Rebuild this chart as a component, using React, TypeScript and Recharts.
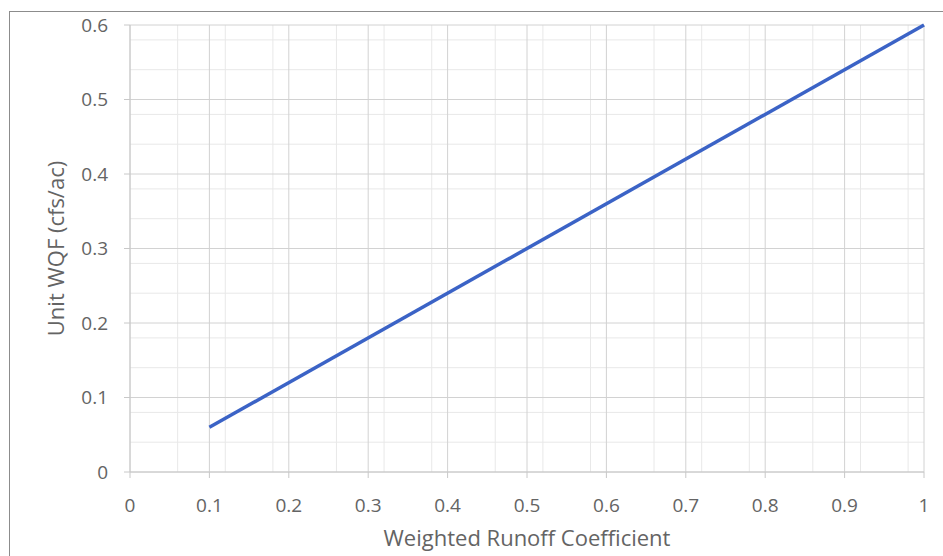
import { LineChart, Line, XAxis, YAxis, CartesianGrid } from 'recharts'

// weighted runoff coefficient vs unit water quality flow
const coefficient = [0.1, 1]
const unitWqf = [0.06, 0.6]

const xTicks = [0, 0.1, 0.2, 0.3, 0.4, 0.5, 0.6, 0.7, 0.8, 0.9, 1]
const yTicks = [0, 0.1, 0.2, 0.3, 0.4, 0.5, 0.6]

// minor gridlines every 0.02
const xMinor = [
  0.02, 0.04, 0.06, 0.08, 0.12, 0.14, 0.16, 0.18, 0.22, 0.24, 0.26, 0.28,
  0.32, 0.34, 0.36, 0.38, 0.42, 0.44, 0.46, 0.48, 0.52, 0.54, 0.56, 0.58,
  0.62, 0.64, 0.66, 0.68, 0.72, 0.74, 0.76, 0.78, 0.82, 0.84, 0.86, 0.88,
  0.92, 0.94, 0.96, 0.98,
]
const yMinor = [
  0.02, 0.04, 0.06, 0.08, 0.12, 0.14, 0.16, 0.18, 0.22, 0.24, 0.26, 0.28,
  0.32, 0.34, 0.36, 0.38, 0.42, 0.44, 0.46, 0.48, 0.52, 0.54, 0.56, 0.58,
]

const data = coefficient.map((c, i) => ({ c, q: unitWqf[i] }))

const font = '"Open Sans", sans-serif'
const tickStyle = { fill: '#646464', fontSize: 19, fontFamily: font }
const titleStyle = { fill: '#646464', fontSize: 22, fontFamily: font }

export default function App() {
  return (
    <div style={{ position: 'absolute', left: 0, top: 0, width: 943, height: 556, overflow: 'hidden', background: '#fff' }}>
      <div
        style={{
          position: 'absolute',
          left: 9,
          top: 11,
          width: 1000,
          height: 600,
          border: '1px solid #8c8c8c',
        }}
      />
      <div style={{ position: 'absolute', left: 0, top: 0 }}>
        <LineChart width={943} height={556} data={data} margin={{ top: 25, right: 19, bottom: 0, left: 0 }}>
          <CartesianGrid stroke="#e8e8e8" verticalValues={xMinor} horizontalValues={yMinor} />
          <CartesianGrid stroke="#d2d2d2" />
          <XAxis
            dataKey="c"
            type="number"
            domain={[0, 1]}
            ticks={xTicks}
            height={84}
            tickSize={6}
            tickMargin={21}
            stroke="#c8c8c8"
            tick={tickStyle}
            label={{
              value: 'Weighted Runoff Coefficient',
              position: 'insideBottom',
              offset: 10,
              style: titleStyle,
            }}
          />
          <YAxis
            type="number"
            domain={[0, 0.6]}
            ticks={yTicks}
            width={130}
            tickSize={6}
            tickMargin={16}
            stroke="#c8c8c8"
            tick={tickStyle}
            label={{
              value: 'Unit WQF (cfs/ac)',
              angle: -90,
              position: 'insideLeft',
              offset: 56,
              style: { ...titleStyle, textAnchor: 'middle' },
            }}
          />
          <Line
            dataKey="q"
            stroke="#3b63c6"
            strokeWidth={3.5}
            dot={false}
            isAnimationActive={false}
          />
        </LineChart>
      </div>
    </div>
  )
}
